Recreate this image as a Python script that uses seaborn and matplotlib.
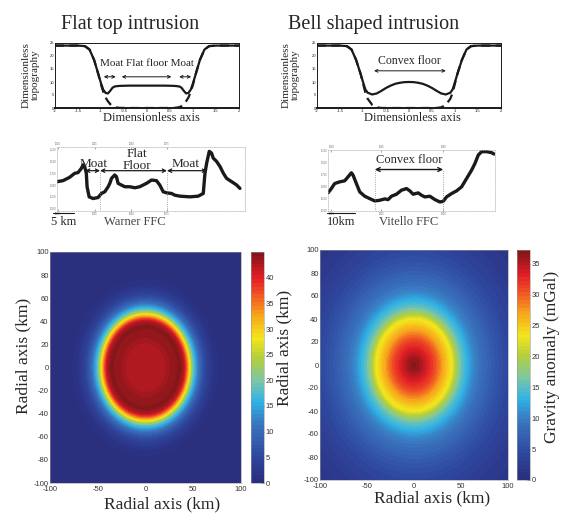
import numpy as np
import matplotlib
matplotlib.use("Agg")
import matplotlib.pyplot as plt
from matplotlib.colors import LinearSegmentedColormap
import seaborn as sns

# ---------------- data ----------------
# top row: dimensionless topography profiles
flat_x = [-2.0, -1.5, -1.35, -1.25, -1.15, -1.05, -1.0, -0.95, -0.9, -0.85, -0.8, -0.75, -0.7, -0.6, -0.4,
          0.0, 0.4, 0.6, 0.7, 0.75, 0.8, 0.85, 0.9, 0.95, 1.0, 1.05, 1.15, 1.25, 1.35, 1.5, 2.0]
flat_solid = [24, 24, 23.8, 22.5, 18.5, 12.5, 9.5, 7.0, 5.8, 5.6, 6.6, 7.8, 8.3, 8.5, 8.6,
              8.6, 8.6, 8.5, 8.3, 7.8, 6.6, 5.6, 5.8, 7.0, 9.5, 12.5, 18.5, 22.5, 23.8, 24, 24]
flat_dash = [24, 24, 23.8, 22.5, 18.5, 12.5, 9.0, 6.2, 4.0, 2.6, 1.5, 0.7, 0.3, 0.05, 0,
             0, 0, 0.05, 0.3, 0.7, 1.5, 2.6, 4.0, 6.2, 9.0, 12.5, 18.5, 22.5, 23.8, 24, 24]

bell_x = [-2.0, -1.5, -1.35, -1.25, -1.15, -1.05, -1.0, -0.95, -0.9, -0.8, -0.7, -0.6, -0.5, -0.4, -0.3, -0.2, -0.1,
          0.0, 0.1, 0.2, 0.3, 0.4, 0.5, 0.6, 0.7, 0.8, 0.9, 0.95, 1.0, 1.05, 1.15, 1.25, 1.35, 1.5, 2.0]
bell_solid = [24, 24, 23.8, 22.5, 18.5, 13.0, 10.0, 7.2, 5.9, 5.2, 5.6, 6.6, 7.7, 8.6, 9.3, 9.7, 9.95,
              10.0, 9.95, 9.7, 9.3, 8.6, 7.7, 6.6, 5.6, 5.2, 5.9, 7.2, 10.0, 13.0, 18.5, 22.5, 23.8, 24, 24]
bell_dash = [24, 24, 23.8, 22.5, 18.5, 13.0, 9.5, 6.0, 3.6, 1.2, 0.25, 0.02, 0, 0, 0, 0, 0,
             0, 0, 0, 0, 0, 0, 0.02, 0.25, 1.2, 3.6, 6.0, 9.5, 13.0, 18.5, 22.5, 23.8, 24, 24]

# middle row: observed crater profiles (relative units, 0-100)
warner_x = [0, 3.2, 6.7, 9.4, 11.2, 13.0, 13.9, 14.7, 15.6, 16.0, 17.1, 19.2, 21.8, 23.6, 25.4, 27.2, 28.1,
            29.0, 30.7, 31.6, 32.5, 34.3, 36.1, 38.7, 41.4, 44.0, 47.6, 50.3, 52.9, 54.7, 56.5, 58.3, 60.9,
            62.7, 65.4, 70.7, 75.1, 77.8, 78.7, 79.6, 81.0, 82.2, 83.1, 84.9, 86.7, 88.5, 90.2, 92.9, 95.6, 97.3]
warner_y = [45.8, 47.4, 52.6, 58.9, 60.0, 66.8, 72.1, 69.5, 58.9, 37.9, 22.1, 19.5, 21.0, 27.4, 30.0, 37.9, 43.2,
            51.0, 56.3, 53.7, 43.2, 40.5, 37.9, 37.9, 36.3, 37.9, 43.2, 48.4, 47.4, 40.5, 30.0, 28.4, 27.4,
            24.7, 23.2, 22.1, 23.2, 27.4, 58.9, 74.7, 93.2, 90.5, 82.6, 77.4, 69.5, 58.9, 51.0, 45.8, 40.5, 35.3]

vitello_x = [0, 2, 4, 7, 10, 12, 14, 15, 17, 19, 22, 25, 28, 31, 34, 36, 38, 41, 44, 47, 49, 51, 54, 56,
             58, 61, 64, 67, 69, 71, 74, 77, 80, 83, 86, 88, 90, 92, 95, 98, 99.4]
vitello_y = [29.7, 36.8, 45.0, 47.8, 49.5, 56.0, 62.6, 58.8, 45.0, 31.3, 24.2, 20.3, 16.5, 17.6, 19.8, 18.7,
             24.2, 27.5, 34.1, 36.8, 33.0, 27.5, 29.7, 25.8, 23.1, 24.2, 18.7, 14.8, 15.9, 23.1, 28.6, 33.0,
             39.6, 53.3, 67.0, 78.0, 91.8, 97.3, 97.3, 95.6, 93.4]

# bottom row: radial profiles of the gravity anomaly (km, mGal)
flat_r = [0, 15, 22, 28, 36, 40, 42, 44, 46, 48, 50, 53, 56, 60, 64, 68, 72, 80, 100, 145]
flat_g = [42.0, 42.2, 42.8, 43.9, 44.4, 42.0, 38.0, 33.0, 28.0, 23.0, 18.0, 14.0, 10.0, 6.5, 4.0, 2.5, 1.2, 0.3, 0, 0]
bell_r = [0, 5, 10, 15, 20, 25, 30, 35, 40, 45, 50, 55, 60, 65, 70, 80, 90, 100, 120, 145]
bell_g = [37, 36, 34.5, 33, 31.5, 29.5, 27, 25, 23, 19, 15.5, 13.5, 11.5, 10, 9, 7, 5.5, 4.2, 2.5, 1.2]

# annotation positions
flat_arrows = [(-0.94, -0.68), (-0.55, 0.53), (0.70, 0.96)]
bell_arrow = (-0.76, 0.80)
warner_edges = [22.9, 58.5]
warner_arrows = [(14.9, 22.9), (22.9, 58.5), (58.5, 79.8)]
vitello_edges = [28, 69]

W, H = 565, 513
SERIF = ["Liberation Serif", "DejaVu Serif"]

# jet-like map with the muted tones of the printed figure
map_colors = [(0.00, "#2a2d7c"), (0.12, "#2f48a0"), (0.26, "#3a78c0"), (0.35, "#2fb2e6"),
              (0.44, "#79c6a8"), (0.54, "#b4cf3c"), (0.63, "#f4e51c"), (0.73, "#f7a21c"),
              (0.81, "#f15a24"), (0.89, "#e31e26"), (1.00, "#7e1519")]
print_jet = LinearSegmentedColormap.from_list("print_jet", map_colors)

sns.set_theme(style="white")
plt.rcParams["font.family"] = ["Liberation Sans", "DejaVu Sans"]
plt.rcParams["xtick.direction"] = "in"
plt.rcParams["ytick.direction"] = "in"
plt.rcParams["axes.unicode_minus"] = False

fig = plt.figure(figsize=(W / 100, H / 100), dpi=100)


def px_axes(x0, y0, x1, y1):
    return fig.add_axes([x0 / W, 1 - y1 / H, (x1 - x0) / W, (y1 - y0) / H])


def ftext(x, y, s, **kw):
    fig.text(x / W, 1 - y / H, s, **kw)


# ---------------- top row ----------------
def topo_panel(ax, x, solid, dash):
    sns.lineplot(x=x, y=dash, ax=ax, color="k", lw=1.6, sort=False, estimator=None,
                 linestyle=(0, (4, 2.5)))
    sns.lineplot(x=x, y=solid, ax=ax, color="k", lw=1.6, sort=False, estimator=None)
    ax.set_xlim(-2, 2)
    ax.set_ylim(0, 25)
    ax.set_xticks(np.arange(-2, 2.01, 0.5))
    ax.set_xticklabels(["-2", "-1.5", "-1", "-0.5", "0", "0.5", "1", "1.5", "2"])
    ax.set_yticks([0, 5, 10, 15, 20, 25])
    ax.tick_params(labelsize=3.0, length=1.5, width=0.4, pad=0.6, colors="k")
    for s in ax.spines.values():
        s.set_color("k")
        s.set_linewidth(0.7)
    ax.spines["bottom"].set_linewidth(1.4)


ax_tl = px_axes(55, 43, 239, 108)
topo_panel(ax_tl, flat_x, flat_solid, flat_dash)
for a, b in flat_arrows:
    ax_tl.annotate("", xy=(b, 12), xytext=(a, 12),
                   arrowprops=dict(arrowstyle="<->", lw=0.7, color="k", mutation_scale=5,
                                   shrinkA=0, shrinkB=0))
ax_tl.text(0, 17.3, "Moat Flat floor Moat", ha="center", va="center", fontsize=8, family=SERIF)

ax_tr = px_axes(317, 43, 501, 108)
topo_panel(ax_tr, bell_x, bell_solid, bell_dash)
ax_tr.annotate("", xy=(bell_arrow[1], 14.3), xytext=(bell_arrow[0], 14.3),
               arrowprops=dict(arrowstyle="<->", lw=0.7, color="k", mutation_scale=5,
                               shrinkA=0, shrinkB=0))
ax_tr.text(0, 18.2, "Convex floor", ha="center", va="center", fontsize=8.5, family=SERIF)

ftext(130, 29, "Flat top intrusion", ha="center", va="baseline", fontsize=14.5, family=SERIF)
ftext(374, 29, "Bell shaped intrusion", ha="center", va="baseline", fontsize=14.5, family=SERIF)
for xc in (31, 291):
    ftext(xc, 75, "Dimensionless\ntopography", ha="center", va="center", rotation=90,
          fontsize=8, family=SERIF, linespacing=1.0)
ftext(151, 121, "Dimensionless axis", ha="center", va="baseline", fontsize=9, family=SERIF)
ftext(412, 121, "Dimensionless axis", ha="center", va="baseline", fontsize=9, family=SERIF)


# ---------------- middle row ----------------
def profile_panel(ax, x, y, xt, yt):
    sns.lineplot(x=x, y=y, ax=ax, color="k", lw=2.4, sort=False, estimator=None)
    ax.set_xlim(0, 100)
    ax.set_ylim(0, 100)
    ax.set_xticks(xt)
    ax.set_yticks(yt)
    ax.set_xticklabels(["%d" % (1000 + 25 * i) for i in range(len(xt))])
    ax.set_yticklabels(["-%d" % (2500 - 250 * i) for i in range(len(yt))])
    ax.tick_params(labelsize=1.8, length=1.5, width=0.4, pad=0.5, colors="#666666",
                   top=True, labeltop=True, bottom=True)
    for s in ax.spines.values():
        s.set_color("#b0b0b0")
        s.set_linewidth(0.5)
        s.set_linestyle(":")


ax_ml = px_axes(57, 147, 245, 211)
profile_panel(ax_ml, warner_x, warner_y, [0.5, 20, 39.6, 58.3], [3.7, 22, 40.5, 59, 77.4, 95.8])
ax_ml.vlines(warner_edges, [0, 0], [63, 63], colors="#888888", linestyles=":", lw=0.6)
for a, b in warner_arrows:
    ax_ml.annotate("", xy=(b, 63), xytext=(a, 63),
                   arrowprops=dict(arrowstyle="<->", lw=0.9, color="k", mutation_scale=6,
                                   shrinkA=0, shrinkB=0))
ax_ml.text(19.7, 73, "Moat", ha="center", va="center", fontsize=9.5, family=SERIF)
ax_ml.text(68.6, 73, "Moat", ha="center", va="center", fontsize=9.5, family=SERIF)
ax_ml.text(42.3, 80, "Flat\nFloor", ha="center", va="center", fontsize=9.5, family=SERIF,
           linespacing=0.95)

ax_mr = px_axes(328, 150, 495, 211)
profile_panel(ax_mr, vitello_x, vitello_y, [2, 32, 69], [1, 20, 40, 60, 80, 99])
ax_mr.vlines(vitello_edges, [0, 0], [68, 68], colors="#888888", linestyles=":", lw=0.6)
ax_mr.annotate("", xy=(vitello_edges[1], 68), xytext=(vitello_edges[0], 68),
               arrowprops=dict(arrowstyle="<->", lw=1.0, color="k", mutation_scale=7,
                               shrinkA=0, shrinkB=0))
ax_mr.text(48.6, 84, "Convex floor", ha="center", va="center", fontsize=9, family=SERIF)

# scale bars and captions
fig.add_artist(plt.Line2D([53 / W, 74 / W], [1 - 212.5 / H, 1 - 212.5 / H], color="k", lw=0.8))
fig.add_artist(plt.Line2D([327 / W, 355 / W], [1 - 212.5 / H, 1 - 212.5 / H], color="k", lw=0.8))
ftext(64, 225, "5 km", ha="center", va="baseline", fontsize=9, family=SERIF)
ftext(135, 225, "Warner FFC", ha="center", va="baseline", fontsize=9, family=SERIF, color="#444444")
ftext(341, 225, "10km", ha="center", va="baseline", fontsize=9, family=SERIF)
ftext(409, 225, "Vitello FFC", ha="center", va="baseline", fontsize=9, family=SERIF, color="#444444")

# ---------------- bottom row ----------------
grid = np.linspace(-100, 100, 401)
gx, gy = np.meshgrid(grid, grid)
rr = np.hypot(gx, gy)


def gravity_panel(ax, cax, r_pts, g_pts, vmax):
    field = np.interp(rr, r_pts, g_pts)
    levels = np.linspace(0, vmax, 61)
    cf = ax.contourf(gx, gy, field, levels=levels, cmap=print_jet, vmin=0, vmax=vmax)
    ax.set_xlim(-100, 100)
    ax.set_ylim(-100, 100)
    ax.set_xticks([-100, -50, 0, 50, 100])
    ax.set_yticks(np.arange(-100, 101, 20))
    ax.tick_params(labelsize=5.5, length=2, width=0.4, pad=1, colors="#333333")
    ax.tick_params(axis="x", pad=2)
    for s in ax.spines.values():
        s.set_color("#999999")
        s.set_linewidth(0.4)
    cb = fig.colorbar(cf, cax=cax, ticks=np.arange(0, vmax, 5))
    cb.ax.tick_params(labelsize=5.5, length=2, width=0.4, pad=1, colors="#333333", direction="in")
    cb.outline.set_linewidth(0.4)
    cb.outline.set_edgecolor("#999999")
    return cb


ax_bl = px_axes(50, 252, 241, 483)
cax_bl = px_axes(251, 252, 264, 483)
gravity_panel(ax_bl, cax_bl, flat_r, flat_g, 45)

ax_br = px_axes(320, 250, 508, 480)
cax_br = px_axes(517, 250, 530, 480)
gravity_panel(ax_br, cax_br, bell_r, bell_g, 37.2)

ftext(162, 504, "Radial axis (km)", ha="center", va="center", fontsize=12.5, family=SERIF)
ftext(432, 498, "Radial axis (km)", ha="center", va="center", fontsize=12.5, family=SERIF)
ftext(23, 356, "Radial axis (km)", ha="center", va="center", rotation=90, fontsize=12.5, family=SERIF)
ftext(284, 348, "Radial axis (km)", ha="center", va="center", rotation=90, fontsize=12.5, family=SERIF)
ftext(552, 357, "Gravity anomaly (mGal)", ha="center", va="center", rotation=90, fontsize=12.5,
      family=SERIF)

fig.savefig("out.png", dpi=100)
